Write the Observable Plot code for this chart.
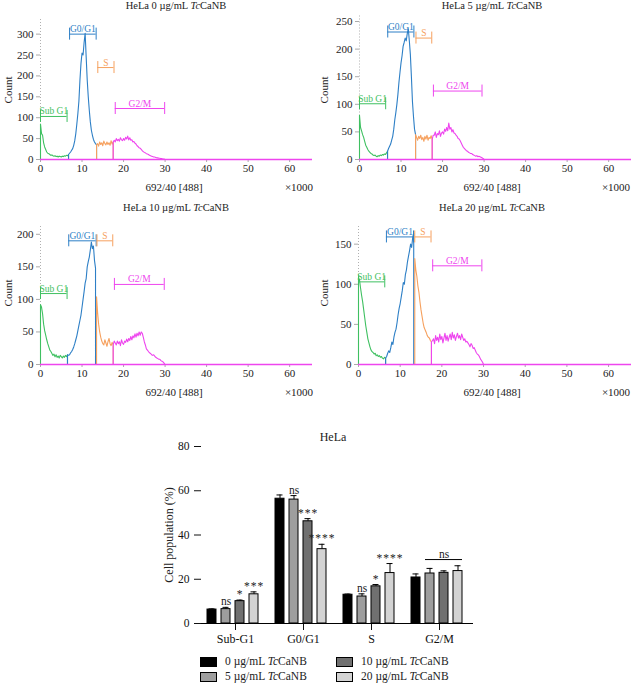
<!DOCTYPE html>
<html><head><meta charset="utf-8">
<script src="https://cdn.jsdelivr.net/npm/d3@7"></script>
<script src="https://cdn.jsdelivr.net/npm/@observablehq/plot@0.6"></script>
<style>
html,body{margin:0;padding:0;background:#fff;}
#root{position:relative;width:632px;height:683px;overflow:hidden;font-family:"Liberation Serif","Times New Roman",Times,"DejaVu Serif","Noto Serif",serif;color:#222;}
.lab{position:absolute;white-space:nowrap;line-height:1;}
.sw{position:absolute;width:15px;height:8px;border:1px solid #000;}
svg{position:absolute;}
</style></head><body><div id="root"></div>
<script>
// ---------- DNA content histograms (counts per 0.25 x1000 channel bin, from 0 to 30) ----------
const binStep = 0.25;
const doseLabels = ["0 µg/mL", "5 µg/mL", "10 µg/mL", "20 µg/mL"];
const hist0 = [85,62,58,40, 30,24,18,15, 14,12,10,11, 9,8,9,7, 8,6,8,7, 6,8,7,9, 8,10,9,12,
  15,18,22,26, 34,45,62,85, 110,140,190,230, 255,250,280,302, 245,190,150,118, 90,70,58,48,
  42,38,35,38, 32,42,36,40, 33,44,38,35, 42,36,40,34, 45,37,42,46, 42,50,45,48, 44,52,47,45,
  50,46,53,49, 56,47,52,46, 47,42,43,39, 37,33,31,28, 27,24,21,19, 17,16,14,13, 12,10,9,8,
  7,6,6,5, 4,4,3,3, 2,2,1,1, 0];
const hist5 = [80,58,52,45, 40,33,26,22, 18,15,13,11, 10,8,7,8, 6,5,7,6, 8,7,9,8, 10,9,12,15,
  20,24,28,35, 42,55,72,85, 100,118,140,158, 175,188,205,212, 220,215,228,237, 215,190,150,105,
  78,55,45,40, 35,42,38,44, 36,40,33,42, 37,44,35,40, 38,43,36,44, 44,50,40,47, 45,52,42,48,
  50,46,55,51, 58,52,66,55, 58,50,54,48, 47,44,42,38, 37,34,30,26, 22,20,18,16, 15,13,12,11,
  11,9,8,7, 6,7,5,6, 5,4,3,2, 0];
const hist10 = [92,88,78,62, 52,45,38,32, 27,22,20,17, 14,16,12,15, 11,13,10,14, 12,10,13,11, 14,12,15,14,
  15,18,20,23, 27,32,38,44, 52,60,68,76, 88,100,112,125, 132,150,158,165, 176,188,178,182,
  160,148,104,80, 62,50,42,36, 32,30,38,33, 28,35,40,32, 29,34,30,36, 33,30,36,32, 35,29,38,33,
  31,36,34,39, 35,40,37,43, 38,44,41,47, 42,48,44,50, 45,50,48,42, 35,30,24,22, 20,18,17,15,
  14,15,13,11, 10,9,8,8, 6,5,4,2, 0];
const hist20 = [109,105,95,86, 78,68,58,48, 40,32,27,22, 18,16,15,13, 14,11,12,10, 11,9,10,8, 7,9,8,10,
  14,17,15,21, 28,25,34,40, 44,52,62,70, 76,84,92,102, 100,112,118,128, 135,142,150,146,
  158,164,132,118, 110,98,90,78, 68,60,52,46, 43,40,36,34, 33,30,28,30, 32,26,36,30, 34,28,38,31,
  35,27,33,39, 30,36,29,34, 38,31,40,33, 37,30,35,39, 33,36,31,38, 34,30,32,28, 29,27,25,22,
  26,24,20,21, 18,15,13,12, 10,7,5,3, 0];
const histograms = [hist0, hist5, hist10, hist20];

// gates (x1000 units)
const gateNames = ["Sub G1", "G0/G1", "S", "G2/M"];
const gateColors = ["#3fc061", "#2d7fc6", "#f6a15f", "#ee45ee"];
const gateStart = [[0, 6.75, 13.5, 17.5], [0, 6.75, 13.5, 17.5], [0, 6.5, 13.5, 17.5], [0, 6.5, 13.5, 17.5]];
const gateEnd   = [[6.75, 13.5, 17.5, 30], [6.75, 13.5, 17.5, 30], [6.5, 13.25, 17.5, 30], [6.5, 13.25, 17.5, 30]];
// gate marker brackets
const bracketLo = [[0, 7, 13.8, 18], [0, 6.8, 13.6, 17.8], [0, 6.8, 13.6, 17.8], [0, 6.7, 13.5, 17.8]];
const bracketHi = [[6.4, 13.4, 17.7, 29.9], [6.3, 13.1, 17.4, 29.5], [6.4, 13.4, 17.4, 29.8], [6.3, 13.2, 17.4, 29.6]];
const bracketLevel = [[103, 300, 220, 122], [101, 231, 220, 124], [109, 190, 190, 123], [103, 159, 159, 123]];
const xTicks = [0, 10, 20, 30, 40, 50, 60];
const yTicks = [[0, 50, 100, 150, 200, 250, 300], [0, 50, 100, 150, 200, 250], [0, 50, 100, 150, 200], [0, 50, 100, 150]];
const yMax = [335, 260, 212, 172];

// ---------- Cell-cycle distribution (%) ----------
const phases = ["Sub-G1", "G0/G1", "S", "G2/M"];
const pop0  = [6.3, 56.4, 13.0, 20.8];
const pop5  = [6.5, 56.0, 12.2, 22.6];
const pop10 = [10.1, 46.2, 16.8, 22.9];
const pop20 = [13.2, 33.6, 22.8, 23.7];
const err0  = [0.3, 1.7, 0.3, 1.6];
const err5  = [0.8, 1.8, 1.2, 2.3];
const err10 = [0.5, 1.2, 0.8, 0.9];
const err20 = [1.1, 2.2, 4.3, 2.4];
const sig5  = ["ns", "ns", "ns", ""];
const sig10 = ["*", "***", "*", ""];
const sig20 = ["***", "****", "****", ""];
const groupSig = [{phase: "G2/M", from: "5 µg/mL", to: "20 µg/mL", mid: "10 µg/mL", level: 28.9, text: "ns"}];
const barColors = ["#000000", "#9e9e9e", "#707070", "#d3d3d3"];

const FONT = '"Liberation Serif","Times New Roman",Times,"DejaVu Serif","Noto Serif",serif';
const root = document.getElementById("root");

function addLabel(html, cx, cy, size, opts = {}) {
  const d = document.createElement("div");
  d.className = "lab";
  d.innerHTML = html;
  d.style.left = cx + "px";
  d.style.top = cy + "px";
  d.style.fontSize = size + "px";
  d.style.transform = "translate(-50%,-50%)" + (opts.rotate ? " rotate(-90deg)" : "");
  if (opts.color) d.style.color = opts.color;
  root.appendChild(d);
}

// panel layout
const panels = [
  {left: 0,   top: 0,   ml: 40, mr: 4, mt: 19, mb: 36},
  {left: 316, top: 0,   ml: 43, mr: 1, mt: 15.5, mb: 36},
  {left: 0,   top: 195, ml: 40, mr: 4, mt: 31, mb: 26},
  {left: 316, top: 195, ml: 42, mr: 1, mt: 31, mb: 26}
];

histograms.forEach((counts, k) => {
  const P = panels[k];
  const rows = [];
  gateNames.forEach((name, j) => {
    const x0 = gateStart[k][j], x1 = gateEnd[k][j], color = gateColors[j];
    rows.push({x: x0, y: 0, gate: name, color});
    counts.forEach((c, i) => {
      const x = i * binStep;
      if (x >= x0 - 1e-9 && x <= x1 + 1e-9) rows.push({x, y: c, gate: name, color});
    });
    rows.push({x: x1, y: 0, gate: name, color});
  });
  const br = gateNames.map((name, j) => ({name, x1: bracketLo[k][j], x2: bracketHi[k][j], y: bracketLevel[k][j], color: gateColors[j]}));
  const caps = br.flatMap(b => [{x: b.x1, y: b.y, color: b.color}, {x: b.x2, y: b.y, color: b.color}]);
  const svg = Plot.plot({
    width: 316, height: 195,
    marginLeft: P.ml, marginRight: P.mr, marginTop: P.mt, marginBottom: P.mb,
    style: {fontFamily: FONT, fontSize: "11px", color: "#222", background: "transparent"},
    x: {domain: [0, 65.5]},
    y: {domain: [0, yMax[k]]},
    color: {type: "identity"},
    marks: [
      Plot.ruleX([0], {stroke: "#b0b0b0", strokeDasharray: "1,2"}),
      Plot.ruleY([0], {stroke: "#b0b0b0"}),
      Plot.axisX({ticks: xTicks, tickSize: 3, tickPadding: 2, stroke: "#aaa", fill: "#222", label: null, fontSize: 11}),
      Plot.axisY({ticks: yTicks[k], tickSize: 4, tickPadding: 3, stroke: "#aaa", fill: "#222", label: null, fontSize: 11}),
      Plot.line(rows, {x: "x", y: "y", z: "gate", stroke: "color", strokeWidth: 1.1}),
      Plot.ruleY([0], {stroke: gateColors[3], strokeWidth: 1.3}),
      Plot.ruleY(br, {x1: "x1", x2: "x2", y: "y", stroke: "color", strokeWidth: 1}),
      Plot.ruleX(caps, {x: "x", y1: "y", y2: "y", stroke: "color", strokeWidth: 1, insetTop: -6, insetBottom: -6}),
      Plot.text(br, {x: d => (d.x1 + d.x2) / 2, y: "y", text: "name", fill: "color", lineAnchor: "bottom", dy: -2, fontSize: 9.5})
    ]
  });
  svg.style.left = P.left + "px";
  svg.style.top = P.top + "px";
  root.appendChild(svg);
  // titles and axis labels
  const cx = P.left;
  const ty = k < 2 ? 6 : 208;
  const ly = k < 2 ? 187 : 392;
  addLabel(`HeLa ${doseLabels[k]} <i>Tc</i>CaNB`, cx + 176, ty, 10.5);
  addLabel("Count", cx + 8, k < 2 ? 90 : 293, 11, {rotate: true});
  addLabel("692/40 [488]", cx + (k % 2 ? 176 : 174), ly, 11);
  addLabel("×1000", cx + (k % 2 ? 300 : 299), ly, 11);
});

// ---------- bar chart ----------
const pops = [pop0, pop5, pop10, pop20];
const errs = [err0, err5, err10, err20];
const sigs = [[], sig5, sig10, sig20];
const bars = phases.flatMap((phase, i) => doseLabels.map((dose, j) => ({
  phase, dose, value: pops[j][i], err: errs[j][i], sig: (sigs[j][i] || ""), color: barColors[j]
})));

const barSvg = Plot.plot({
  width: 632, height: 235,
  marginLeft: 201, marginRight: 159, marginTop: 26, marginBottom: 32,
  style: {fontFamily: FONT, fontSize: "12px", color: "#111", background: "transparent"},
  fx: {domain: phases, padding: 0, label: null},
  x: {domain: doseLabels, paddingInner: 0.384, paddingOuter: 0.5, align: 0.36, axis: null},
  y: {domain: [0, 80]},
  color: {type: "identity"},
  marks: [
    Plot.axisY({ticks: [0, 20, 40, 60, 80], tickSize: 7, tickPadding: 5, label: null, line: true, fontSize: 11.5}),
    Plot.axisFx({anchor: "bottom", tickSize: 7, tickPadding: 4, label: null, fontSize: 12}),
    Plot.ruleY([0], {stroke: "#000"}),
    Plot.barY(bars, {fx: "phase", x: "dose", y: "value", fill: "color", stroke: "#000", strokeWidth: 1}),
    Plot.ruleX(bars, {fx: "phase", x: "dose", y1: "value", y2: d => d.value + d.err, stroke: "#000"}),
    Plot.tickY(bars, {fx: "phase", x: "dose", y: d => d.value + d.err, stroke: "#000", insetLeft: 1.5, insetRight: 1.5}),
    Plot.text(bars.filter(d => d.sig), {fx: "phase", x: "dose", y: d => d.value + d.err, text: "sig", lineAnchor: "bottom", dy: -2, fontSize: 11.5, fill: "#222"}),
    Plot.ruleY(groupSig, {fx: "phase", x1: "from", x2: "to", y: "level", stroke: "#000"}),
    Plot.text(groupSig, {fx: "phase", x: "mid", y: "level", text: "text", lineAnchor: "bottom", dy: -2, fontSize: 11.5, fill: "#222"})
  ]
});
barSvg.style.left = "0px";
barSvg.style.top = "420px";
root.appendChild(barSvg);
d3.select(barSvg).selectAll("text").filter(function () { return /^\*+$/.test(this.textContent); })
  .style("letter-spacing", "1px");

addLabel("HeLa", 333, 437, 12);
addLabel("Cell population (%)", 169, 535, 12, {rotate: true});

// legend
const legendPos = [[200, 662], [200, 677], [336, 662], [336, 677]];
doseLabels.forEach((dose, j) => {
  const [lx, ly] = legendPos[j];
  const sw = document.createElement("div");
  sw.className = "sw";
  sw.style.left = lx + "px";
  sw.style.top = (ly - 5) + "px";
  sw.style.background = barColors[j];
  root.appendChild(sw);
  const t = document.createElement("div");
  t.className = "lab";
  t.innerHTML = `${dose} <i>Tc</i>CaNB`;
  t.style.left = (lx + 25) + "px";
  t.style.top = (ly - 6) + "px";
  t.style.fontSize = "11.5px";
  root.appendChild(t);
});
</script></body></html>
